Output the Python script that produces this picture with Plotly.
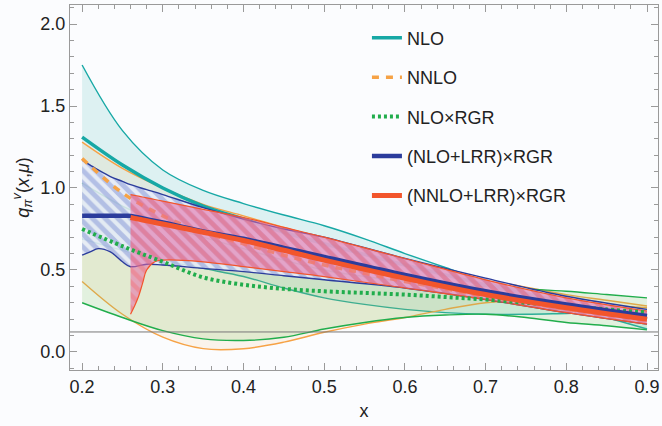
import plotly.graph_objects as go

# ---------------- data ----------------
x_grid = [0.2, 0.25, 0.3, 0.35, 0.4, 0.45, 0.5, 0.55, 0.6, 0.65, 0.7, 0.75, 0.8, 0.85, 0.9]

nlo_upper = [1.75, 1.35, 1.11, 0.985, 0.905, 0.835, 0.77, 0.69, 0.60, 0.515, 0.43, 0.355, 0.28, 0.21, 0.14]
nlo_center = [1.31, 1.14, 1.00, 0.89, 0.81, 0.73, 0.66, 0.595, 0.53, 0.47, 0.41, 0.355, 0.30, 0.25, 0.20]
nlo_lower = [0.69, 0.62, 0.56, 0.51, 0.46, 0.39, 0.33, 0.29, 0.26, 0.24, 0.23, 0.23, 0.235, 0.24, 0.24]

nnlo_upper = [1.28, 1.12, 1.00, 0.90, 0.83, 0.76, 0.69, 0.625, 0.56, 0.50, 0.44, 0.395, 0.35, 0.315, 0.28]
nnlo_center = [1.18, 0.97, 0.83, 0.73, 0.66, 0.59, 0.53, 0.48, 0.43, 0.385, 0.34, 0.30, 0.26, 0.23, 0.20]
nnlo_lower = [0.43, 0.23, 0.09, 0.02, 0.02, 0.06, 0.12, 0.17, 0.21, 0.26, 0.30, 0.31, 0.30, 0.285, 0.27]

rgr_upper = [1.03, 0.89, 0.78, 0.70, 0.63, 0.56, 0.50, 0.46, 0.43, 0.41, 0.40, 0.385, 0.37, 0.35, 0.33]
rgr_center = [0.75, 0.645, 0.55, 0.455, 0.41, 0.385, 0.37, 0.36, 0.35, 0.335, 0.32, 0.30, 0.28, 0.26, 0.24]
rgr_lower = [0.30, 0.21, 0.13, 0.08, 0.07, 0.09, 0.14, 0.18, 0.21, 0.225, 0.23, 0.21, 0.18, 0.16, 0.135]

x_blue = [0.2, 0.21, 0.22, 0.235, 0.25, 0.26, 0.28, 0.3, 0.35, 0.4, 0.45, 0.5, 0.6, 0.7, 0.8, 0.9]
blue_upper = [1.17, 1.14, 1.11, 1.07, 1.04, 1.02, 0.99, 0.96, 0.88, 0.81, 0.75, 0.70, 0.57, 0.45, 0.34, 0.26]
blue_center = [0.83, 0.83, 0.83, 0.83, 0.83, 0.83, 0.81, 0.79, 0.735, 0.69, 0.635, 0.58, 0.47, 0.37, 0.29, 0.22]
blue_lower = [0.59, 0.61, 0.63, 0.61, 0.55, 0.52, 0.535, 0.53, 0.51, 0.49, 0.465, 0.44, 0.39, 0.32, 0.24, 0.17]

x_red = [0.26, 0.265, 0.27, 0.275, 0.28, 0.29, 0.3, 0.35, 0.4, 0.45, 0.5, 0.6, 0.7, 0.8, 0.9]
red_upper = [0.96, 0.955, 0.95, 0.945, 0.94, 0.93, 0.92, 0.87, 0.82, 0.76, 0.70, 0.57, 0.44, 0.33, 0.25]
red_center = [0.82, 0.815, 0.81, 0.805, 0.80, 0.79, 0.78, 0.73, 0.68, 0.62, 0.56, 0.45, 0.35, 0.27, 0.20]
red_lower = [0.23, 0.28, 0.34, 0.42, 0.50, 0.55, 0.56, 0.55, 0.52, 0.49, 0.46, 0.39, 0.32, 0.24, 0.17]

baseline = 0.122

x_ticks = [0.2, 0.3, 0.4, 0.5, 0.6, 0.7, 0.8, 0.9]
y_ticks = [0.0, 0.5, 1.0, 1.5, 2.0]

names = ["NLO", "NNLO", "NLO×RGR", "(NLO+LRR)×RGR", "(NNLO+LRR)×RGR"]

# ---------------- styles ----------------
TEAL = "#17a8a5"
ORANGE = "#f6a245"
GREEN = "#21ad4c"
BLUE = "#2b3c9c"
RED = "#f2552c"
FONT = "Liberation Sans, Arial"

fig = go.Figure()


def band(x, lo, hi, edge, fillcolor, pattern=None, ew=1.4):
    fig.add_trace(go.Scatter(x=x, y=lo, mode="lines", line=dict(color=edge, width=ew, shape="spline"),
                             showlegend=False, hoverinfo="skip"))
    kw = dict(fill="tonexty", fillcolor=fillcolor)
    if pattern:
        kw["fillpattern"] = pattern
    fig.add_trace(go.Scatter(x=x, y=hi, mode="lines", line=dict(color=edge, width=ew, shape="spline"),
                             showlegend=False, hoverinfo="skip", **kw))


band(x_grid, nlo_lower, nlo_upper, TEAL, "rgba(23,168,165,0.13)")
band(x_grid, nnlo_lower, nnlo_upper, ORANGE, "rgba(246,162,69,0.10)")
band(x_grid, rgr_lower, rgr_upper, GREEN, "rgba(130,200,100,0.20)")

fig.add_hline(y=baseline, line=dict(color="#777777", width=1))

fig.add_trace(go.Scatter(x=x_grid, y=nlo_center, mode="lines", name=names[0], legendgroup="a",
                         line=dict(color=TEAL, width=3.5, shape="spline")))

band(x_blue, blue_lower, blue_upper, BLUE, "rgba(232,236,250,0.85)",
     pattern=dict(shape="\\", fgcolor="rgba(122,140,210,0.95)", size=9, solidity=0.55, fillmode="overlay"))

fig.add_trace(go.Scatter(x=x_grid, y=nnlo_center, mode="lines", name=names[1], legendgroup="b",
                         line=dict(color=ORANGE, width=3.5, dash="7px,7px", shape="spline")))

band(x_red, red_lower, red_upper, RED, "rgba(228,105,165,0.55)",
     pattern=dict(shape="\\", fgcolor="rgba(245,110,115,0.85)", size=9, solidity=0.5, fillmode="overlay"),
     ew=1.2)

fig.add_trace(go.Scatter(x=x_grid, y=rgr_center, mode="lines", name=names[2], legendgroup="c",
                         line=dict(color=GREEN, width=4, dash="3px,3px", shape="spline")))
fig.add_trace(go.Scatter(x=x_blue, y=blue_center, mode="lines", name=names[3], legendgroup="d",
                         line=dict(color=BLUE, width=4.5, shape="spline")))
fig.add_trace(go.Scatter(x=x_red, y=red_center, mode="lines", name=names[4], legendgroup="e",
                         line=dict(color=RED, width=5, shape="spline")))

axis_common = dict(showline=True, linecolor="#9a9a9a", linewidth=1, mirror="ticks", ticks="inside",
                   ticklen=7, tickcolor="#9a9a9a", showgrid=False, zeroline=False,
                   tickfont=dict(size=18, color="#222222", family=FONT))

fig.update_xaxes(range=[0.185, 0.9136], tickvals=x_ticks, ticktext=[f"{v:.1f}" for v in x_ticks],
                 minor=dict(ticks="inside", dtick=0.02, tick0=0.2, ticklen=4, tickcolor="#9a9a9a"),
                 title=dict(text="x", font=dict(size=18, color="#222222", family=FONT), standoff=8),
                 **axis_common)
fig.update_yaxes(range=[-0.11, 2.116], tickvals=y_ticks, ticktext=[f"{v:.1f}" for v in y_ticks],
                 minor=dict(ticks="inside", dtick=0.1, tick0=0.0, ticklen=4, tickcolor="#9a9a9a"),
                 title=dict(text="<i>q</i><sub><i>π</i></sub><sup><i>v</i></sup>(<i>x</i>,<i>μ</i>)",
                            font=dict(size=18, color="#222222", family=FONT), standoff=6),
                 **axis_common)

fig.update_layout(
    width=662, height=426,
    margin=dict(l=70, r=2, t=5, b=56),
    paper_bgcolor="#fbfcfe", plot_bgcolor="#fbfcfe",
    font=dict(family=FONT, color="#222222"),
    legend=dict(x=0.505, y=0.96, xanchor="left", yanchor="top", bgcolor="rgba(0,0,0,0)",
                font=dict(size=18, color="#222222"), tracegroupgap=13, itemwidth=30),
)

fig.write_html("out.html")
